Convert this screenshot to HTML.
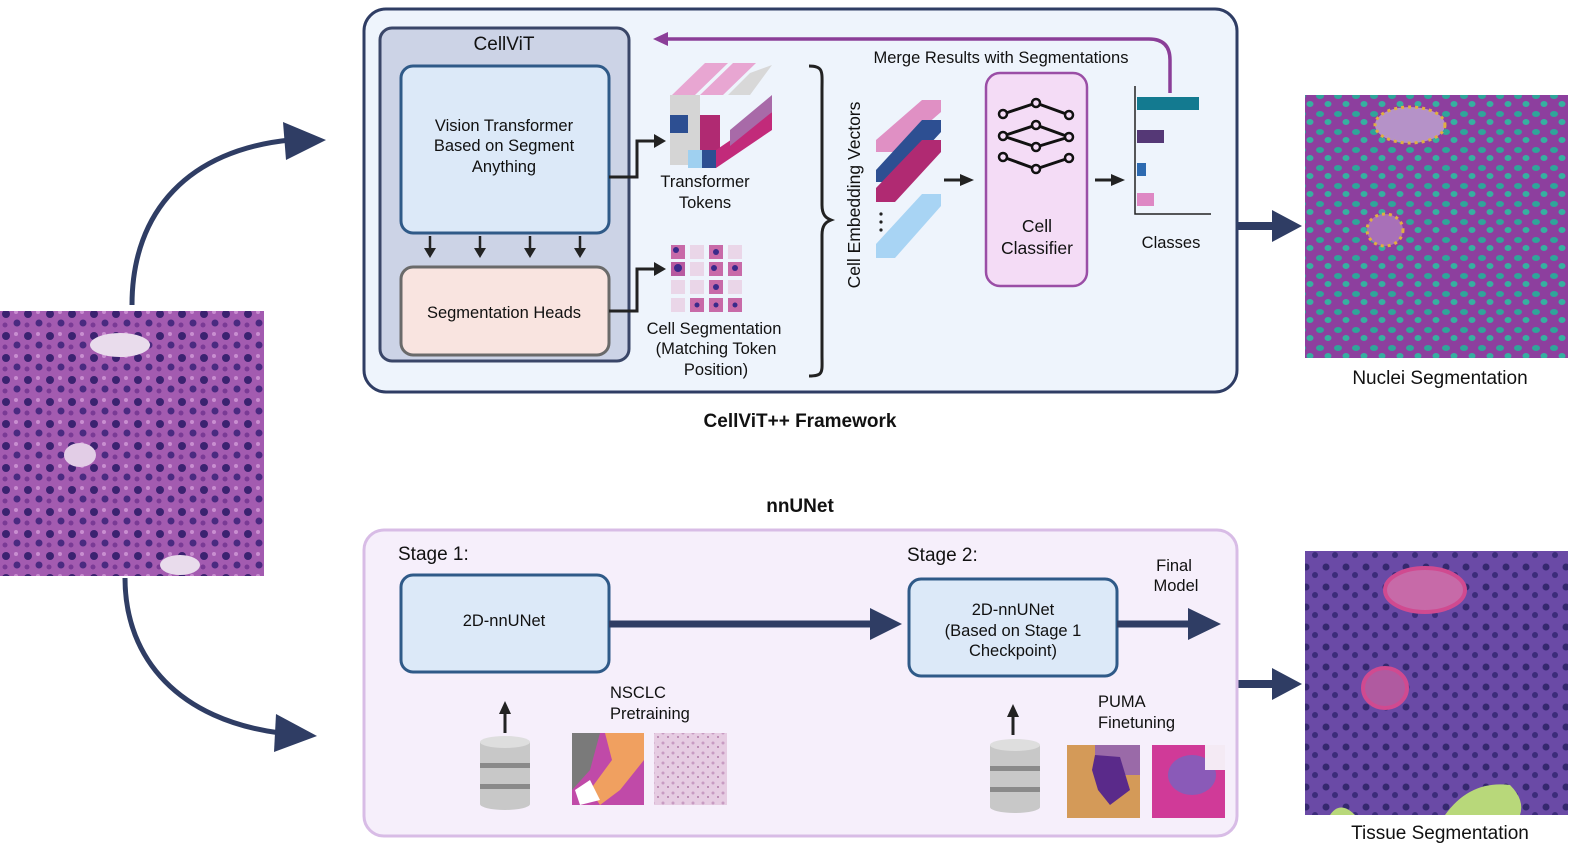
<!DOCTYPE html>
<html><head><meta charset="utf-8"><style>
html,body{margin:0;padding:0;background:#fff;}
svg{display:block;font-family:"Liberation Sans",Arial,sans-serif;}
</style></head><body>
<svg width="1578" height="854" viewBox="0 0 1578 854" xmlns="http://www.w3.org/2000/svg">
<defs>
<pattern id="he" width="22" height="22" patternUnits="userSpaceOnUse">
<rect width="22" height="22" fill="#a35bb0"/>
<circle cx="6" cy="6" r="4" fill="#3b2270"/><circle cx="17" cy="15" r="3.5" fill="#4a2a80"/>
<circle cx="16" cy="4" r="2" fill="#c98ed0"/><circle cx="5" cy="17" r="2.5" fill="#7a3a95"/>
</pattern>
<pattern id="nuc" width="18" height="18" patternUnits="userSpaceOnUse">
<rect width="18" height="18" fill="#8d3f9e"/>
<ellipse cx="6" cy="6" rx="4" ry="3" fill="#2fa59a"/><ellipse cx="14" cy="14" rx="3.5" ry="3" fill="#36b0a0"/>
</pattern>
<pattern id="tis" width="20" height="20" patternUnits="userSpaceOnUse">
<rect width="20" height="20" fill="#6a4aa6"/>
<circle cx="6" cy="7" r="3.5" fill="#35286e"/><circle cx="15" cy="15" r="3" fill="#3c2c7a"/>
</pattern>
<pattern id="pink" width="10" height="10" patternUnits="userSpaceOnUse">
<rect width="10" height="10" fill="#e6cce2"/><circle cx="3" cy="3" r="1.5" fill="#c89bc2"/><circle cx="8" cy="7" r="1" fill="#b27aa8"/>
</pattern>
<marker id="ah" markerWidth="10" markerHeight="10" refX="2" refY="5" orient="auto" markerUnits="strokeWidth"><path d="M0,0 L10,5 L0,10 z" fill="#222"/></marker>
</defs>

<!-- left image -->
<rect x="0" y="311" width="264" height="265" fill="url(#he)"/>
<ellipse cx="120" cy="345" rx="30" ry="12" fill="#e9dcec"/>
<ellipse cx="80" cy="455" rx="16" ry="12" fill="#e2cde6"/>
<ellipse cx="180" cy="565" rx="20" ry="10" fill="#e9dcec"/>

<!-- curved arrows -->
<path d="M132,305 C132,210 190,150 290,140" fill="none" stroke="#2f3d64" stroke-width="5"/>
<path d="M283,122 L326,140 L286,160 z" fill="#2f3d64"/>
<path d="M125,578 C125,660 180,720 280,733" fill="none" stroke="#2f3d64" stroke-width="5"/>
<path d="M276,714 L317,736 L274,752 z" fill="#2f3d64"/>

<!-- top box -->
<rect x="364" y="9" width="873" height="383" rx="22" fill="#eef4fc" stroke="#2f3d64" stroke-width="3"/>
<rect x="380" y="28" width="249" height="333" rx="12" fill="#ccd3e6" stroke="#3a4668" stroke-width="3"/>
<text x="504" y="50" font-size="19" text-anchor="middle" fill="#111">CellViT</text>
<rect x="401" y="66" width="208" height="167" rx="12" fill="#dce9f8" stroke="#2f5a88" stroke-width="3"/>
<text font-size="16.5" text-anchor="middle" fill="#111"><tspan x="504" y="131">Vision Transformer</tspan><tspan x="504" y="151">Based on Segment</tspan><tspan x="504" y="172">Anything</tspan></text>
<rect x="401" y="267" width="208" height="88" rx="12" fill="#f9e4e0" stroke="#6a6a6a" stroke-width="3"/>
<text x="504" y="318" font-size="16.5" text-anchor="middle" fill="#111">Segmentation Heads</text>
<g stroke="#222" stroke-width="2.5">
<line x1="430" y1="236" x2="430" y2="250"/><line x1="480" y1="236" x2="480" y2="250"/><line x1="530" y1="236" x2="530" y2="250"/><line x1="580" y1="236" x2="580" y2="250"/>
</g>
<g fill="#222"><path d="M424,248 L436,248 L430,258z"/><path d="M474,248 L486,248 L480,258z"/><path d="M524,248 L536,248 L530,258z"/><path d="M574,248 L586,248 L580,258z"/></g>
<path d="M609,177 L637,177 L637,141 L656,141" fill="none" stroke="#222" stroke-width="3"/>
<path d="M654,134 L666,141 L654,148z" fill="#222"/>
<path d="M609,311 L637,311 L637,269 L656,269" fill="none" stroke="#222" stroke-width="3"/>
<path d="M654,262 L666,269 L654,276z" fill="#222"/>

<!-- tokens cube -->
<g>
<polygon points="672,95 705,63 728,63 695,95" fill="#e8a6d2"/>
<polygon points="700,95 733,63 756,63 723,95" fill="#e8a6d2"/>
<polygon points="728,95 750,73 772,65 750,95" fill="#d8d8d8"/>
<rect x="670" y="95" width="30" height="70" fill="#d5d5d5"/>
<rect x="670" y="115" width="18" height="18" fill="#2d4f92"/>
<rect x="700" y="115" width="20" height="50" fill="#b02a72"/>
<rect x="688" y="150" width="14" height="18" fill="#9fd0f0"/>
<rect x="702" y="150" width="14" height="18" fill="#2d4f92"/>
<polygon points="716,168 716,150 772,112 772,130" fill="#c22a7a"/>
<polygon points="730,130 772,95 772,112 730,146" fill="#a86aa8"/>
</g>
<text font-size="16.5" text-anchor="middle" fill="#111"><tspan x="705" y="187">Transformer</tspan><tspan x="705" y="208">Tokens</tspan></text>

<!-- seg grid -->
<g>
<rect x="671" y="245" width="14" height="14" fill="#c86aa8"/><rect x="690" y="245" width="14" height="14" fill="#ead6e8"/><rect x="709" y="245" width="14" height="14" fill="#c86aa8"/><rect x="728" y="245" width="14" height="14" fill="#ead6e8"/>
<rect x="671" y="262" width="14" height="14" fill="#b85aa0"/><rect x="690" y="262" width="14" height="14" fill="#ead6e8"/><rect x="709" y="262" width="14" height="14" fill="#c86aa8"/><rect x="728" y="262" width="14" height="14" fill="#c86aa8"/>
<rect x="671" y="280" width="14" height="14" fill="#ead6e8"/><rect x="690" y="280" width="14" height="14" fill="#ead6e8"/><rect x="709" y="280" width="14" height="14" fill="#c86aa8"/><rect x="728" y="280" width="14" height="14" fill="#ead6e8"/>
<rect x="671" y="298" width="14" height="14" fill="#ead6e8"/><rect x="690" y="298" width="14" height="14" fill="#c86aa8"/><rect x="709" y="298" width="14" height="14" fill="#c86aa8"/><rect x="728" y="298" width="14" height="14" fill="#c86aa8"/>
<g fill="#3a2a8a"><circle cx="676" cy="250" r="3"/><circle cx="678" cy="268" r="4"/><circle cx="716" cy="252" r="3"/><circle cx="714" cy="268" r="3"/><circle cx="735" cy="268" r="3"/><circle cx="716" cy="287" r="3"/><circle cx="697" cy="305" r="2.5"/><circle cx="716" cy="305" r="2.5"/><circle cx="735" cy="305" r="2.5"/></g>
</g>
<text font-size="16.5" text-anchor="middle" fill="#111"><tspan x="714" y="334">Cell Segmentation</tspan><tspan x="716" y="354">(Matching Token</tspan><tspan x="716" y="375">Position)</tspan></text>

<!-- brace -->
<path d="M809,66 C824,66 822,72 822,90 L822,205 C822,215 826,218 831,220 C826,222 822,225 822,235 L822,355 C822,372 824,376 809,376" fill="none" stroke="#222" stroke-width="3"/>
<text transform="translate(860,195) rotate(-90)" font-size="17.5" text-anchor="middle" fill="#111">Cell Embedding Vectors</text>

<!-- embeddings -->
<polygon points="876,140 922,100 941,100 941,112 895,152 876,152" fill="#e090c4"/>
<polygon points="876,170 922,120 941,120 941,132 895,182 876,182" fill="#2d4f92"/>
<polygon points="876,188 922,140 941,140 941,152 895,202 876,202" fill="#b02a72"/>
<polygon points="876,244 922,194 941,194 941,206 895,258 876,258" fill="#a8d4f4"/>
<g fill="#222"><circle cx="881" cy="214" r="1.6"/><circle cx="881" cy="222" r="1.6"/><circle cx="881" cy="230" r="1.6"/></g>
<line x1="944" y1="180" x2="962" y2="180" stroke="#222" stroke-width="3"/><path d="M960,174 L974,180 L960,186z" fill="#222"/>

<!-- classifier -->
<rect x="986" y="73" width="101" height="213" rx="14" fill="#f4dcf6" stroke="#9a4ea6" stroke-width="2.5"/>
<g stroke="#111" stroke-width="3" fill="none">
<line x1="1003" y1="114" x2="1036" y2="103"/><line x1="1036" y1="103" x2="1069" y2="115"/>
<line x1="1003" y1="136" x2="1036" y2="125"/><line x1="1036" y1="125" x2="1069" y2="137"/>
<line x1="1003" y1="136" x2="1036" y2="147"/><line x1="1036" y1="147" x2="1069" y2="137"/>
<line x1="1003" y1="157" x2="1036" y2="169"/><line x1="1036" y1="169" x2="1069" y2="158"/>
</g>
<g stroke="#111" stroke-width="2.5" fill="#f4dcf6">
<circle cx="1003" cy="114" r="4"/><circle cx="1003" cy="136" r="4"/><circle cx="1003" cy="157" r="4"/>
<circle cx="1036" cy="103" r="4"/><circle cx="1036" cy="125" r="4"/><circle cx="1036" cy="147" r="4"/><circle cx="1036" cy="169" r="4"/>
<circle cx="1069" cy="115" r="4"/><circle cx="1069" cy="137" r="4"/><circle cx="1069" cy="158" r="4"/>
</g>
<text font-size="17.5" text-anchor="middle" fill="#111"><tspan x="1037" y="232">Cell</tspan><tspan x="1037" y="254">Classifier</tspan></text>
<line x1="1095" y1="180" x2="1113" y2="180" stroke="#222" stroke-width="3"/><path d="M1111,174 L1125,180 L1111,186z" fill="#222"/>

<!-- chart -->
<path d="M1135,86 L1135,214 L1211,214" fill="none" stroke="#222" stroke-width="1.5"/>
<rect x="1137" y="97" width="62" height="13" fill="#137a90"/>
<rect x="1137" y="130" width="27" height="13" fill="#553876"/>
<rect x="1137" y="163" width="9" height="13" fill="#2d6ab0"/>
<rect x="1137" y="193" width="17" height="13" fill="#de88c4"/>
<text x="1171" y="248" font-size="16.5" text-anchor="middle" fill="#111">Classes</text>

<!-- feedback -->
<path d="M1170,93 L1170,60 Q1170,39 1149,39 L666,39" fill="none" stroke="#8b3e98" stroke-width="3.5"/>
<path d="M668,32 L653,39 L668,46z" fill="#8b3e98"/>
<text x="1001" y="63" font-size="16.5" text-anchor="middle" fill="#111">Merge Results with Segmentations</text>

<text x="800" y="427" font-size="19" font-weight="bold" text-anchor="middle" fill="#111">CellViT++ Framework</text>

<!-- right arrows -->
<line x1="1238" y1="226" x2="1280" y2="226" stroke="#2f3d64" stroke-width="8"/><path d="M1272,210 L1302,226 L1272,242z" fill="#2f3d64"/>
<line x1="1238" y1="684" x2="1280" y2="684" stroke="#2f3d64" stroke-width="8"/><path d="M1272,668 L1302,684 L1272,700z" fill="#2f3d64"/>

<!-- nuclei image -->
<rect x="1305" y="95" width="263" height="263" fill="url(#nuc)"/>
<ellipse cx="1410" cy="125" rx="35" ry="18" fill="#b592c8" stroke="#e0b040" stroke-width="3" stroke-dasharray="3 4"/>
<ellipse cx="1385" cy="230" rx="18" ry="16" fill="#a870b8" stroke="#e0b040" stroke-width="3" stroke-dasharray="3 4"/>
<text x="1440" y="384" font-size="19" text-anchor="middle" fill="#111">Nuclei Segmentation</text>

<!-- nnUNet -->
<text x="800" y="512" font-size="19" font-weight="bold" text-anchor="middle" fill="#111">nnUNet</text>
<rect x="364" y="530" width="873" height="306" rx="20" fill="#f6effb" stroke="#d8bce6" stroke-width="3"/>
<text x="398" y="560" font-size="19" fill="#111">Stage 1:</text>
<text x="907" y="561" font-size="19" fill="#111">Stage 2:</text>
<rect x="401" y="575" width="208" height="97" rx="12" fill="#dce9f8" stroke="#2f5a88" stroke-width="3"/>
<text x="504" y="626" font-size="16.5" text-anchor="middle" fill="#111">2D-nnUNet</text>
<rect x="909" y="579" width="208" height="97" rx="12" fill="#dce9f8" stroke="#2f5a88" stroke-width="3"/>
<text font-size="16.5" text-anchor="middle" fill="#111"><tspan x="1013" y="615">2D-nnUNet</tspan><tspan x="1013" y="636">(Based on Stage 1</tspan><tspan x="1013" y="656">Checkpoint)</tspan></text>
<line x1="609" y1="624" x2="878" y2="624" stroke="#2f3d64" stroke-width="7"/><path d="M870,608 L902,624 L870,640z" fill="#2f3d64"/>
<line x1="1117" y1="624" x2="1196" y2="624" stroke="#2f3d64" stroke-width="7"/><path d="M1188,608 L1221,624 L1188,640z" fill="#2f3d64"/>
<text font-size="16.5" text-anchor="middle" fill="#111"><tspan x="1174" y="571">Final</tspan><tspan x="1176" y="591">Model</tspan></text>

<!-- db 1 -->
<g>
<line x1="505" y1="733" x2="505" y2="712" stroke="#222" stroke-width="3"/><path d="M499,714 L505,701 L511,714z" fill="#222"/>
<rect x="480" y="742" width="50" height="62" fill="#c8c8c8"/>
<ellipse cx="505" cy="804" rx="25" ry="6" fill="#c8c8c8"/>
<rect x="480" y="763" width="50" height="5" fill="#8a8a8a"/><rect x="480" y="784" width="50" height="5" fill="#8a8a8a"/>
<ellipse cx="505" cy="742" rx="25" ry="6" fill="#dedede"/>
</g>
<text font-size="16.5" fill="#111"><tspan x="610" y="698">NSCLC</tspan><tspan x="610" y="719">Pretraining</tspan></text>
<rect x="572" y="733" width="72" height="72" fill="#c04aa8"/>
<path d="M572,733 L600,733 L590,770 L572,790z" fill="#7a7a7a"/>
<path d="M605,733 L644,733 L644,760 L620,790 L600,805 L590,790 L612,760z" fill="#f0a060"/>
<path d="M575,790 L590,780 L600,800 L580,805z" fill="#fff"/>
<rect x="654" y="733" width="73" height="72" fill="url(#pink)"/>

<!-- db 2 -->
<g>
<line x1="1013" y1="735" x2="1013" y2="715" stroke="#222" stroke-width="3"/><path d="M1007,717 L1013,704 L1019,717z" fill="#222"/>
<rect x="990" y="745" width="50" height="62" fill="#c8c8c8"/>
<ellipse cx="1015" cy="807" rx="25" ry="6" fill="#c8c8c8"/>
<rect x="990" y="766" width="50" height="5" fill="#8a8a8a"/><rect x="990" y="787" width="50" height="5" fill="#8a8a8a"/>
<ellipse cx="1015" cy="745" rx="25" ry="6" fill="#dedede"/>
</g>
<text font-size="16.5" fill="#111"><tspan x="1098" y="707">PUMA</tspan><tspan x="1098" y="728">Finetuning</tspan></text>
<rect x="1067" y="745" width="73" height="73" fill="#d49a58"/>
<rect x="1095" y="745" width="45" height="30" fill="#9a6aa8"/>
<path d="M1095,755 L1120,757 L1130,790 L1110,805 L1098,790 L1092,770z" fill="#5a2a8a"/>
<rect x="1152" y="745" width="73" height="73" fill="#d03a98"/>
<ellipse cx="1192" cy="775" rx="24" ry="20" fill="#8a5ab8"/>
<rect x="1205" y="745" width="20" height="25" fill="#f4eaf4"/>

<!-- tissue image -->
<rect x="1305" y="551" width="263" height="264" fill="url(#tis)"/>
<ellipse cx="1425" cy="590" rx="40" ry="22" fill="#c76aa8" stroke="#d04a90" stroke-width="4"/>
<ellipse cx="1385" cy="688" rx="22" ry="20" fill="#b05aa0" stroke="#d04a90" stroke-width="4"/>
<path d="M1445,815 Q1470,780 1510,785 Q1525,800 1520,815z" fill="#b8d87a"/>
<path d="M1330,815 Q1340,800 1355,815z" fill="#b8d87a"/>
<text x="1440" y="839" font-size="19" text-anchor="middle" fill="#111">Tissue Segmentation</text>
</svg>
</body></html>
